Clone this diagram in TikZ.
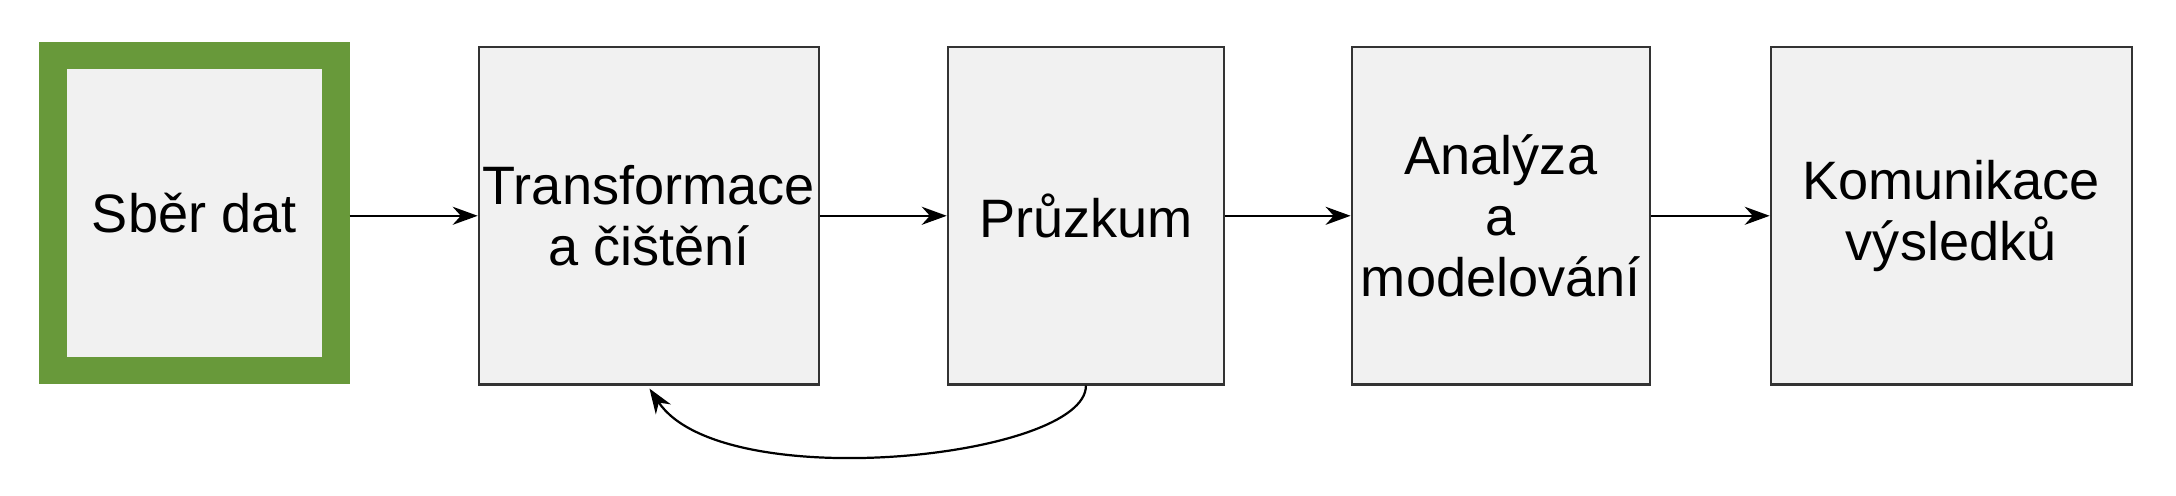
\documentclass[tikz,border=0pt]{standalone}
\usepackage{fontspec}
\setmainfont{Liberation Sans}
\usetikzlibrary{arrows.meta}
\definecolor{boxfill}{HTML}{F1F1F1}
\definecolor{grn}{HTML}{68993A}
\begin{document}
\begin{tikzpicture}[x=0.5pt,y=-0.5pt,
  box/.style={draw=black!80,line width=0.8pt,fill=boxfill,inner sep=0pt,align=center,font=\fontsize{19.5}{22}\selectfont},
  arr/.style={-{Stealth[length=9pt,width=6.5pt]},line width=0.8pt}]
\useasboundingbox (0,0) rectangle (1568,357);
\fill[white] (0,0) rectangle (1568,357);
\node[box,draw=grn,line width=10pt,minimum width=102pt,minimum height=113.5pt] (a) at (140,153.5) {Sběr dat};
\node[box,minimum width=122.5pt,minimum height=121.5pt] (b) at (467.5,155.5) {Transformace\\a čištění};
\node[box,minimum width=99.5pt,minimum height=121.5pt] (c) at (782.5,155.5) {Průzkum};
\node[box,minimum width=107.5pt,minimum height=121.5pt] (d) at (1081.5,155.5) {Analýza\\a\\modelování};
\node[box,minimum width=130pt,minimum height=121.5pt] (e) at (1406,155.5) {Komunikace\\výsledků};
\coordinate (aout) at (252,155.5);
\draw[arr] (aout) -- (b.west);
\draw[arr] (b.east) -- (c.west);
\draw[arr] (c.east) -- (d.west);
\draw[arr] (d.east) -- (e.west);
\draw[arr] (c.south) .. controls (783,330) and (520,358) .. (468,280);
\end{tikzpicture}
\end{document}
